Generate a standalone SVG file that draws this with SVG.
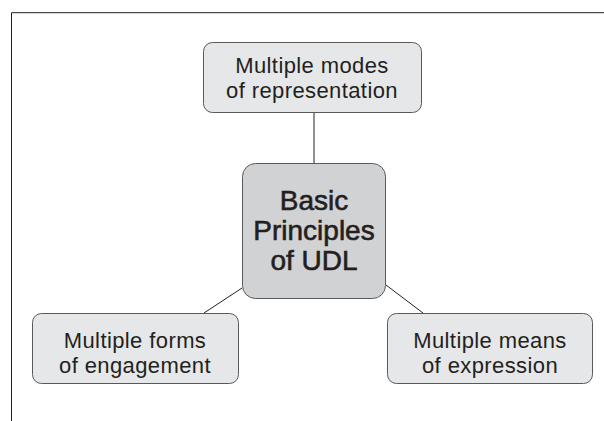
<svg xmlns="http://www.w3.org/2000/svg" width="604" height="421" viewBox="0 0 604 421">
<style>
.box{fill:#e6e7e8;stroke:#58595b;stroke-width:1}
.core{fill:#d1d2d4;stroke:#58595b;stroke-width:1}
.t{font-family:"Liberation Sans",Arial,sans-serif;font-size:22px;letter-spacing:0.4px;fill:#231f20;text-anchor:middle}
.tc{font-family:"Liberation Sans",Arial,sans-serif;font-size:28px;fill:#231f20;stroke:#231f20;stroke-width:0.6;text-anchor:middle}
.ln{stroke:#231f20;stroke-width:1;fill:none}
</style>
<rect width="604" height="421" fill="#fff"/>
<path class="ln" d="M11.5 421V12.7H604"/>
<g id="connectors">
<line class="ln" x1="314" y1="112" x2="314" y2="163"/>
<line class="ln" x1="242" y1="288" x2="204" y2="313"/>
<line class="ln" x1="386" y1="285" x2="423" y2="313"/>
</g>
<g id="top">
<rect class="box" x="203.5" y="42.5" width="218" height="70" rx="9"/>
<text class="t" x="312" y="72.5">Multiple modes</text>
<text class="t" x="312" y="98">of representation</text>
</g>
<g id="center">
<rect class="core" x="242.5" y="163.5" width="143" height="135" rx="13"/>
<text class="tc" x="314" y="210">Basic</text>
<text class="tc" x="314" y="240">Principles</text>
<text class="tc" x="314" y="270">of UDL</text>
</g>
<g id="left">
<rect class="box" x="32.5" y="313.5" width="206" height="70" rx="9"/>
<text class="t" x="135" y="347.5">Multiple forms</text>
<text class="t" x="135" y="373">of engagement</text>
</g>
<g id="right">
<rect class="box" x="387.5" y="313.5" width="205" height="70" rx="9"/>
<text class="t" x="490" y="347.5">Multiple means</text>
<text class="t" x="490" y="373">of expression</text>
</g>
</svg>
